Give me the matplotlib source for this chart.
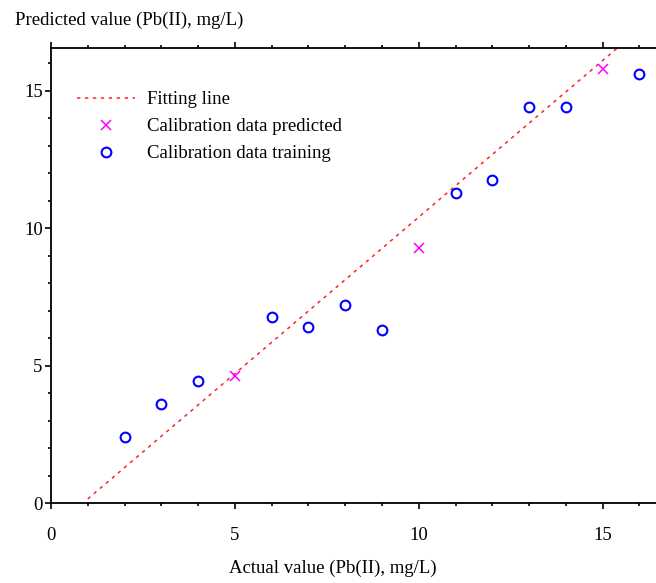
import matplotlib
matplotlib.use('Agg')
import matplotlib.pyplot as plt
from matplotlib.ticker import MultipleLocator

plt.rc('font', family=['Liberation Serif', 'DejaVu Serif'], size=13.5)

# calibration data (Pb(II), mg/L)
x_train = [2, 3, 4, 6, 7, 8, 9, 11, 12, 13, 14, 16]
y_train = [2.4, 3.6, 4.45, 6.75, 6.4, 7.2, 6.3, 11.27, 11.75, 14.4, 14.4, 15.6]

x_pred = [5, 10, 15]
y_pred = [4.63, 9.27, 15.78]

# fitting line end points
x_fit = [1.0, 15.4]
y_fit = [0.15, 16.55]

fig = plt.figure(figsize=(6.56, 5.83), dpi=100)
ax = fig.add_axes([51/656, 80/583, 1 - 51/656, 455/583])

ax.plot(x_fit, y_fit, color='#ff2020', lw=1.1, ls=(0, (2.2, 3.0)), label='Fitting line')
ax.plot(x_pred, y_pred, 'x', color='#ff00ff', ms=6.5, mew=1.1, label='Calibration data predicted')
ax.plot(x_train, y_train, 'o', mfc='none', mec='#0000ff', ms=7, mew=1.5,
        label='Calibration data training')

ax.set_xlim(0, 16.45)
ax.set_ylim(0, 16.55)

ax.xaxis.set_major_locator(MultipleLocator(5))
ax.xaxis.set_minor_locator(MultipleLocator(1))
ax.yaxis.set_major_locator(MultipleLocator(5))
ax.yaxis.set_minor_locator(MultipleLocator(1))

ax.spines['right'].set_visible(False)
for s in ['left', 'top', 'bottom']:
    ax.spines[s].set_linewidth(1.3)

ax.tick_params(which='both', direction='out', top=True, right=False, width=1.2)
ax.tick_params(which='major', length=4)
ax.tick_params(which='minor', length=2)
ax.tick_params(axis='x', which='major', pad=13)
ax.tick_params(axis='y', which='major', pad=2)

ax.set_xlabel('Actual value (Pb(II), mg/L)')
ax.xaxis.set_label_coords(0.465, -0.125)
fig.text(15/656, 1 - 20/583, 'Predicted value (Pb(II), mg/L)', ha='left', va='center')

ax.legend(loc='upper left', bbox_to_anchor=(0.043, 0.905), frameon=False,
          borderpad=0, borderaxespad=0, handlelength=3.1, handletextpad=0.65,
          labelspacing=0.53, numpoints=1)

plt.savefig('out.png', dpi=100)
